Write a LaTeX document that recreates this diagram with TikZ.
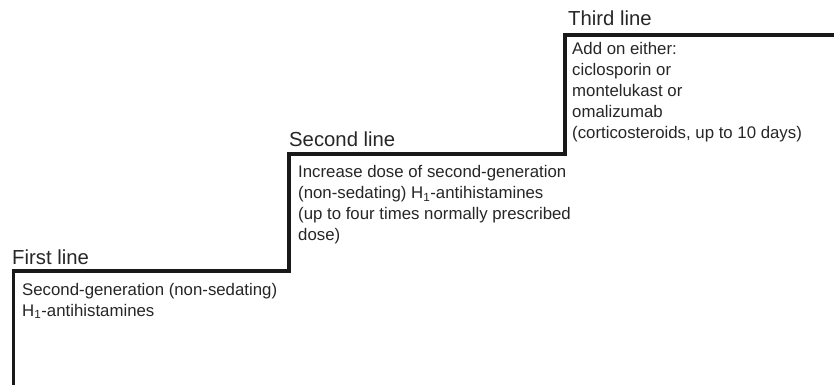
\documentclass[tikz,border=0pt]{standalone}
\usepackage{fontspec}
\setmainfont{Liberation Sans}
\begin{document}
\begin{tikzpicture}[x=1pt,y=-1pt,
  stairline/.style={line width=3.6pt, draw=black!90, line join=miter},
  title/.style={anchor=base west, inner sep=0pt, font=\fontsize{20.3}{22}\selectfont, text=black!85},
  bodytext/.style={anchor=base west, inner sep=0pt, align=left, font=\fontsize{16.8}{20.8}\selectfont, text=black!85}]
\useasboundingbox (0,0) rectangle (834,384);
% staircase
\coordinate (s0) at (13.5,386);
\coordinate (s1) at (13.5,271);
\coordinate (s2) at (289,271);
\coordinate (s3) at (289,154);
\coordinate (s4) at (565,154);
\coordinate (s5) at (565,35);
\coordinate (s6) at (836,35);
\draw[stairline] (s0) -- (s1) -- (s2) -- (s3) -- (s4) -- (s5) -- (s6);
% titles
\node[title] (t1) at (12,264) {First line};
\node[title] (t2) at (289,146) {Second line};
\node[title] (t3) at (568,25) {Third line};
% bodies (anchored at the baseline of their last line)
\node[bodytext] (b1) at (22,316) {Second-generation (non-sedating)\\H\textsubscript{1}-antihistamines};
\node[bodytext] (b2) at (298,240) {Increase dose of second-generation\\(non-sedating) H\textsubscript{1}-antihistamines\\(up to four times normally prescribed\\dose)};
\node[bodytext] (b3) at (572,138) {Add on either:\\ciclosporin or\\montelukast or\\omalizumab\\(corticosteroids, up to 10 days)};
\end{tikzpicture}
\end{document}
